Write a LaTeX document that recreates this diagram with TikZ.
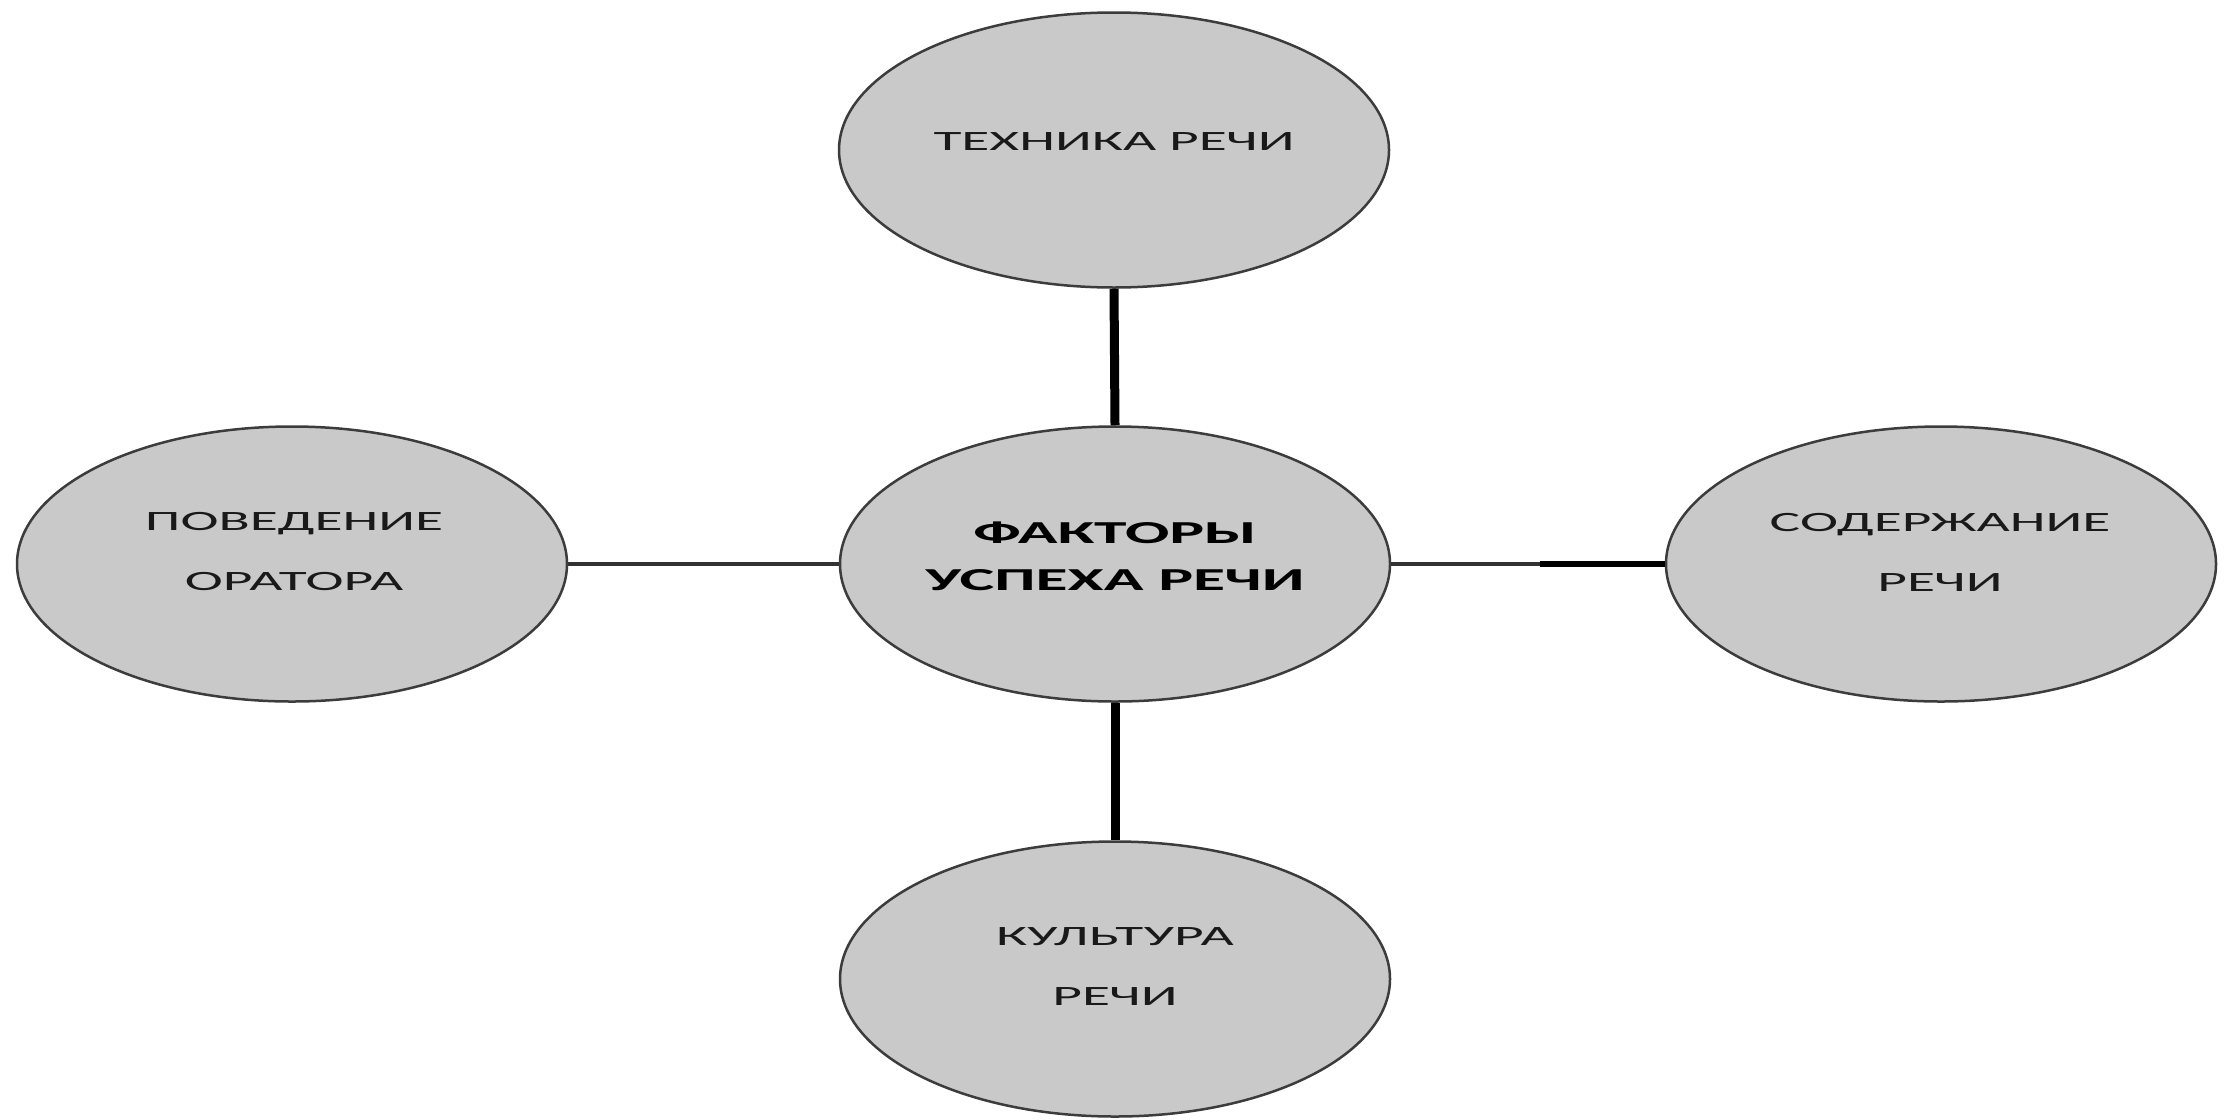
\documentclass[tikz,border=0pt]{standalone}
\usepackage{fontspec}
\usetikzlibrary{shapes.geometric}
\newfontfamily\lblfont[FakeStretch=2.05]{Carlito}
\definecolor{ovfill}{RGB}{201,201,201}
\definecolor{ovdraw}{RGB}{60,60,60}
\definecolor{hline}{RGB}{50,50,50}
\tikzset{
  oval/.style={ellipse, draw=ovdraw, line width=2.5pt, fill=ovfill,
    minimum width=550pt, minimum height=275pt, inner sep=0pt},
  lbl/.style={align=center, text=black!90, font=\lblfont\fontsize{28}{60}\selectfont, inner sep=0pt},
  mainlbl/.style={align=center, text=black, font=\lblfont\bfseries\fontsize{32}{47}\selectfont, inner sep=0pt},
  vlink/.style={line width=9pt, black},
  hlink/.style={line width=4.5pt, hline},
  hlinkthick/.style={line width=6pt, black}
}
\begin{document}
\begin{tikzpicture}[x=1pt,y=-1pt]
\path[fill=white,use as bounding box] (0,0) rectangle (2226,1119);

\node[oval] (top) at (1114,150) {};
\node[oval] (ctr) at (1115,564) {};
\node[oval] (lft) at (292,564) {};
\node[oval] (rgt) at (1941,564) {};
\node[oval] (bot) at (1115,979) {};

\draw[vlink] (top.south) -- (ctr.north);
\draw[vlink] (ctr.south) -- (bot.north);
\draw[hlink] (lft.east) -- (ctr.west);
\coordinate (rj) at (1540,564);
\draw[hlink] (ctr.east) -- (rj);
\draw[hlinkthick] (rj) -- (rgt.west);

\node[lbl] (ttop) at (1114,142) {ТЕХНИКА РЕЧИ};
\node[mainlbl] (tctr) at (1115,556) {ФАКТОРЫ\\УСПЕХА РЕЧИ};
\node[lbl] (tlft) at (294,552) {ПОВЕДЕНИЕ\\ОРАТОРА};
\node[lbl] (trgt) at (1940,552) {СОДЕРЖАНИЕ\\РЕЧИ};
\node[lbl] (tbot) at (1115,967) {КУЛЬТУРА\\РЕЧИ};
\end{tikzpicture}
\end{document}
